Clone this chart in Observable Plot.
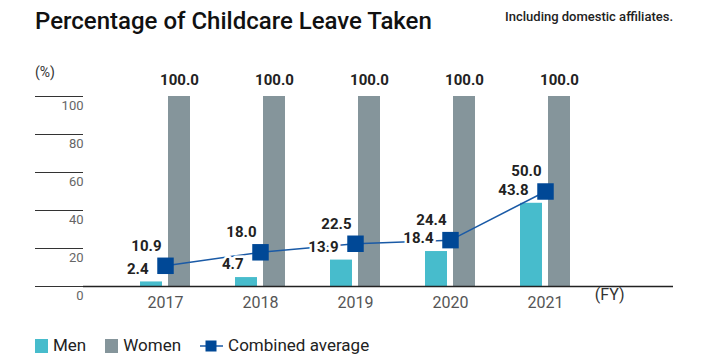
<!DOCTYPE html>
<html><head><meta charset="utf-8">
<script src="https://cdn.jsdelivr.net/npm/d3@7"></script>
<script src="https://cdn.jsdelivr.net/npm/@observablehq/plot@0.6"></script>
<style>
body{margin:0;background:#fff;font-family:Roboto,sans-serif;}
#wrap{position:relative;width:707px;height:360px;overflow:hidden;background:#fff;}
#title{position:absolute;left:35px;top:9px;font-size:24px;line-height:24px;font-weight:500;color:#111;white-space:nowrap;}
#sub{position:absolute;right:34px;top:10px;font-size:13px;line-height:13px;font-weight:500;color:#222;white-space:nowrap;}
#pct{position:absolute;left:35px;top:65px;font-size:14px;line-height:14px;color:#333;}
#chart{position:absolute;left:0;top:55px;}
#legend{position:absolute;left:35px;top:337px;display:flex;align-items:center;font-size:17px;line-height:17px;color:#222;white-space:nowrap;}
.sw{display:inline-block;width:13px;height:14px;margin-right:5px;}
.item{display:flex;align-items:center;margin-right:19px;}
</style></head><body>
<div id="wrap">
 <div id="title">Percentage of Childcare Leave Taken</div>
 <div id="sub">Including domestic affiliates.</div>
 <div id="pct">(%)</div>
 <div id="chart"></div>
 <div id="legend"></div>
</div>
<script>
const years = ["2017", "2018", "2019", "2020", "2021"];
const men = [2.4, 4.7, 13.9, 18.4, 43.8];
const women = [100.0, 100.0, 100.0, 100.0, 100.0];
const combined = [10.9, 18.0, 22.5, 24.4, 50.0];
const yTicks = [0, 20, 40, 60, 80, 100];
const seriesNames = ["Men", "Women", "Combined average"];
const seriesColors = ["#47bccc", "#85959b", "#004896"];

const data = years.map((y, i) => ({year: y, men: men[i], women: women[i], combined: combined[i]}));
const fmt = d3.format(".1f");
const labelStyle = {fontSize: 15, fontWeight: 700, fill: "#222"};

const plot = Plot.plot({
  width: 707, height: 260,
  marginLeft: 83, marginRight: 34, marginTop: 41, marginBottom: 29,
  style: {fontFamily: "Roboto, sans-serif", background: "transparent", overflow: "visible"},
  x: {type: "band", domain: years, padding: 0.769, insetLeft: -3.25, insetRight: 43.75, label: null},
  y: {domain: [0, 100], label: null},
  marks: [
    Plot.axisY(yTicks, {tickSize: 48, tickFormat: () => "", color: "#333", label: null}),
    Plot.axisY(yTicks, {tickSize: 0, tickPadding: 0, dy: 9, fontSize: 13, color: "#666", label: null}),
    Plot.axisX({tickSize: 0, tickPadding: 10, fontSize: 16, color: "#555", label: null}),
    Plot.barY(data, {x: "year", y: "men", fill: seriesColors[0], dx: -14}),
    Plot.barY(data, {x: "year", y: "women", fill: seriesColors[1], dx: 14}),
    Plot.ruleY([0], {stroke: "#222", strokeWidth: 1.5}),
    Plot.line(data, {x: "year", y: "combined", stroke: "#1a5aa6", strokeWidth: 1.5}),
    Plot.text(data, {x: "year", y: "men", text: d => fmt(d.men), textAnchor: "end", dx: -17, dy: -13, stroke: "white", strokeWidth: 5, ...labelStyle}),
    Plot.dot(data, {x: "year", y: "combined", symbol: "square", r: 9.3, fill: seriesColors[2], stroke: "none"}),
    Plot.text(data, {x: "year", y: "combined", text: d => fmt(d.combined), textAnchor: "end", dx: -4, dy: -20, ...labelStyle}),
    Plot.text(data, {x: "year", y: "women", text: d => fmt(d.women), dx: 14, dy: -16, ...labelStyle}),
    Plot.text(["(FY)"], {frameAnchor: "bottom-right", dx: -49, dy: 13, fontSize: 16, fill: "#333"})
  ]
});
document.getElementById("chart").appendChild(plot);

const legend = document.getElementById("legend");
seriesNames.forEach((name, i) => {
  const item = document.createElement("div");
  item.className = "item";
  if (i < 2) {
    const sw = document.createElement("span");
    sw.className = "sw";
    sw.style.background = seriesColors[i];
    item.appendChild(sw);
  } else {
    const ns = "http://www.w3.org/2000/svg";
    const s = document.createElementNS(ns, "svg");
    s.setAttribute("width", 24); s.setAttribute("height", 14);
    s.style.marginRight = "4px";
    const l = document.createElementNS(ns, "line");
    l.setAttribute("x1", 0); l.setAttribute("x2", 23); l.setAttribute("y1", 7); l.setAttribute("y2", 7);
    l.setAttribute("stroke", "#1a5aa6"); l.setAttribute("stroke-width", 1.5);
    const r = document.createElementNS(ns, "rect");
    r.setAttribute("x", 5.5); r.setAttribute("y", 1.5); r.setAttribute("width", 11); r.setAttribute("height", 11);
    r.setAttribute("fill", seriesColors[2]);
    s.appendChild(l); s.appendChild(r);
    item.appendChild(s);
  }
  const t = document.createElement("span");
  t.textContent = name;
  item.appendChild(t);
  legend.appendChild(item);
});
</script>
</body></html>
